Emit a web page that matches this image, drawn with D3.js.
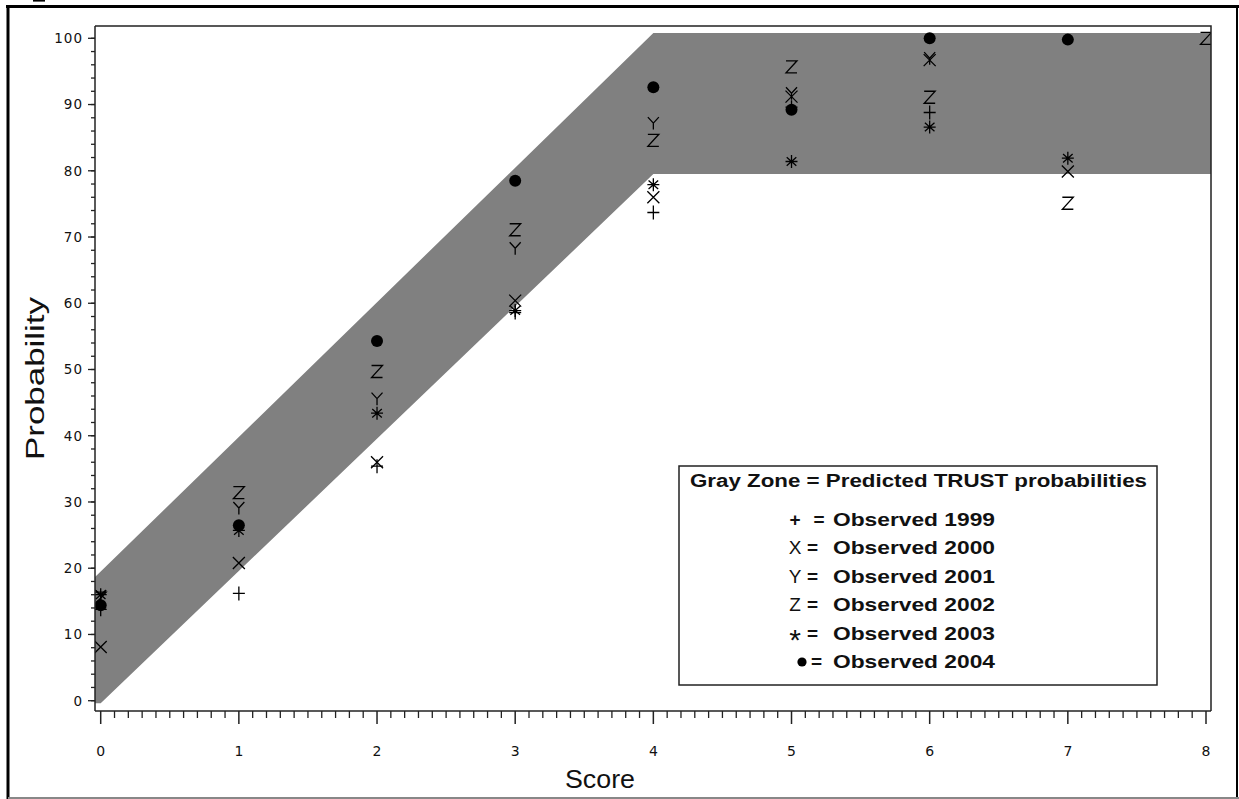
<!DOCTYPE html>
<html>
<head>
<meta charset="utf-8">
<script src="https://cdn.jsdelivr.net/npm/d3@7"></script>
<style>
  html, body { margin: 0; padding: 0; background: #fff; }
  svg { display: block; }
</style>
</head>
<body>
<svg id="chart" width="1239" height="799"></svg>
<script>
// Score categories on the x axis
const scores = [0, 1, 2, 3, 4, 5, 6, 7, 8];

// Observed probabilities (%) per year, one value per score (null = no observation)
const obs1999 = [13.8, 16.2, 35.4, 58.6, 73.7, 89.6, 88.8, null, null];
const obs2000 = [8.1, 20.8, 36.0, 60.4, 76.0, 91.2, 96.7, 79.9, null];
const obs2001 = [15.8, 29.1, 45.6, 68.3, 87.2, 91.7, 97.0, null, null];
const obs2002 = [15.5, 31.4, 49.7, 71.1, 84.6, 95.7, 91.1, 75.1, 100.0];
const obs2003 = [16.0, 25.7, 43.4, 58.9, 77.9, 81.4, 86.6, 81.9, null];
const obs2004 = [14.4, 26.5, 54.3, 78.5, 92.6, 89.2, 100.0, 99.8, null];

const years = [1999, 2000, 2001, 2002, 2003, 2004];
const symbols = ["+", "X", "Y", "Z", "*", "dot"];
const legendSymbols = ["+", "X", "Y", "Z", "*", "\u25CF"];
const seriesValues = [obs1999, obs2000, obs2001, obs2002, obs2003, obs2004];

// Predicted TRUST band (gray zone): lower/upper bounds at the break points
const bandScores = [0, 4, 8];
const bandLower = [-0.4, 79.5, 79.5];
const bandUpper = [19.5, 100.8, 100.8];

// Axis ticks
const yMajorTicks = [0, 10, 20, 30, 40, 50, 60, 70, 80, 90, 100];
const xMajorTicks = [0, 1, 2, 3, 4, 5, 6, 7, 8];

const legendTitle = "Gray Zone = Predicted TRUST probabilities";
const xTitle = "Score";
const yTitle = "Probability";

const sans = "'Liberation Sans', Arial, Helvetica, sans-serif";

// ---------- layout ----------
const svg = d3.select("#chart");
const plot = { left: 95, right: 1211, top: 26, bottom: 711 };

const x = d3.scaleLinear().domain([0, 8]).range([100.7, 1206]);
const y = d3.scaleLinear().domain([0, 100]).range([700.7, 38.3]);

// outer frame
svg.append("rect").attr("x", 33).attr("y", 0).attr("width", 12).attr("height", 1.6).attr("fill", "#000");
svg.append("line").attr("x1", 6).attr("x2", 1239).attr("y1", 6.5).attr("y2", 6.5)
  .attr("stroke", "#000").attr("stroke-width", 3);
svg.append("line").attr("x1", 8).attr("x2", 8).attr("y1", 5).attr("y2", 799)
  .attr("stroke", "#000").attr("stroke-width", 3);
svg.append("line").attr("x1", 1237).attr("x2", 1237).attr("y1", 5).attr("y2", 799)
  .attr("stroke", "#000").attr("stroke-width", 2);
svg.append("line").attr("x1", 8).attr("x2", 1239).attr("y1", 798).attr("y2", 798)
  .attr("stroke", "#888").attr("stroke-width", 2);

// clip region for the data area
svg.append("defs").append("clipPath").attr("id", "plotClip")
  .append("rect")
  .attr("x", plot.left).attr("y", plot.top)
  .attr("width", plot.right - plot.left).attr("height", plot.bottom - plot.top);

const gData = svg.append("g").attr("clip-path", "url(#plotClip)");

// ---------- gray band ----------
const lowAt = d3.scaleLinear().domain(bandScores).range(bandLower);
const upAt = d3.scaleLinear().domain(bandScores).range(bandUpper);
const sLeft = x.invert(plot.left), sRight = x.invert(plot.right);
const bandPts = [sLeft, ...bandScores, sRight].sort((a, b) => a - b);
const band = d3.area()
  .x(d => x(d))
  .y0(d => y(Math.max(lowAt(d), bandLower[0])))
  .y1(d => y(upAt(d)));
gData.append("path").datum(bandPts).attr("d", band).attr("fill", "#808080");

// ---------- symbols ----------
const glyphPaths = {
  "+": "M-6,0H6M0,-7V7",
  "X": "M-6,-6L6,6M6,-6L-6,6",
  "Y": "M-5.5,-6L0,0L5.5,-6M0,0V6.5",
  "Z": "M-5.5,-6H5.5L-5.5,6H5.5",
  "*": "M0,-6.5V6.5M-6,0H6M-4.8,-4.2L4.8,4.2M-4.8,4.2L4.8,-4.2"
};

seriesValues.forEach((vals, i) => {
  const sym = symbols[i];
  const pts = scores.map((s, j) => ({ s, v: vals[j] })).filter(d => d.v != null);
  const g = gData.append("g").attr("class", "series-" + years[i]);
  if (sym === "dot") {
    g.selectAll("circle").data(pts).join("circle")
      .attr("cx", d => x(d.s)).attr("cy", d => y(d.v)).attr("r", 6)
      .attr("fill", "#000");
  } else {
    g.selectAll("path").data(pts).join("path")
      .attr("transform", d => `translate(${x(d.s)},${y(d.v)})`)
      .attr("d", glyphPaths[sym])
      .attr("fill", "none").attr("stroke", "#000").attr("stroke-width", 1.3);
  }
});

// ---------- plot frame ----------
svg.append("path")
  .attr("d", `M${plot.left},${plot.top}H${plot.right}V${plot.bottom}`)
  .attr("fill", "none").attr("stroke", "#222").attr("stroke-width", 1.5);

// ---------- y axis ----------
const yMinor = d3.range(0, 101, 2);
const gy = svg.append("g").attr("transform", `translate(${plot.left},0)`);
gy.append("line").attr("x1", 0).attr("x2", 0).attr("y1", plot.top).attr("y2", plot.bottom)
  .attr("stroke", "#222").attr("stroke-width", 1.5);
gy.selectAll("line.minor").data(yMinor).join("line").attr("class", "minor")
  .attr("x1", -4).attr("x2", 0).attr("y1", d => y(d)).attr("y2", d => y(d))
  .attr("stroke", "#222").attr("stroke-width", 1.3);
gy.selectAll("line.major").data(yMajorTicks).join("line").attr("class", "major")
  .attr("x1", -7).attr("x2", 0).attr("y1", d => y(d)).attr("y2", d => y(d))
  .attr("stroke", "#222").attr("stroke-width", 1.3);
gy.selectAll("text").data(yMajorTicks).join("text")
  .attr("x", -12).attr("y", d => y(d)).attr("dy", "0.36em")
  .attr("text-anchor", "end")
  .attr("font-family", "DejaVu Sans, sans-serif").attr("font-size", 13.5)
  .attr("letter-spacing", 1)
  .attr("fill", "#111")
  .text(d => d);

// ---------- x axis ----------
const xMinor = d3.range(0, 80).map(i => i / 10).filter(v => Math.abs(v - Math.round(v)) > 1e-6);
const gx = svg.append("g").attr("transform", `translate(0,${plot.bottom})`);
gx.append("line").attr("x1", plot.left).attr("x2", plot.right).attr("y1", 0).attr("y2", 0)
  .attr("stroke", "#222").attr("stroke-width", 1.5);
gx.selectAll("line.minor").data(xMinor).join("line").attr("class", "minor")
  .attr("x1", d => x(d)).attr("x2", d => x(d)).attr("y1", 0).attr("y2", 7)
  .attr("stroke", "#222").attr("stroke-width", 1.3);
gx.selectAll("line.major").data(xMajorTicks).join("line").attr("class", "major")
  .attr("x1", d => x(d)).attr("x2", d => x(d)).attr("y1", 0).attr("y2", 13)
  .attr("stroke", "#222").attr("stroke-width", 1.5);
gx.selectAll("text").data(xMajorTicks).join("text")
  .attr("x", d => x(d)).attr("y", 40).attr("dy", "0.36em")
  .attr("text-anchor", "middle")
  .attr("font-family", "DejaVu Sans, sans-serif").attr("font-size", 14)
  .attr("fill", "#111")
  .text(d => d);

// ---------- axis titles ----------
svg.append("text")
  .attr("x", 565).attr("y", 788)
  .attr("font-family", sans).attr("font-size", 25)
  .attr("textLength", 70).attr("lengthAdjust", "spacingAndGlyphs")
  .attr("fill", "#111").text(xTitle);

svg.append("text")
  .attr("transform", "translate(44,460) rotate(-90)")
  .attr("x", 0).attr("y", 0)
  .attr("font-family", sans).attr("font-size", 25)
  .attr("textLength", 163).attr("lengthAdjust", "spacingAndGlyphs")
  .attr("fill", "#111").text(yTitle);

// ---------- legend ----------
const lg = svg.append("g");
lg.append("rect").attr("x", 679).attr("y", 466).attr("width", 478).attr("height", 219)
  .attr("fill", "#fff").attr("stroke", "#222").attr("stroke-width", 1.5);
lg.append("text").attr("x", 690).attr("y", 487)
  .attr("font-family", sans).attr("font-size", 18)
  .attr("font-weight", "bold")
  .attr("textLength", 457).attr("lengthAdjust", "spacingAndGlyphs")
  .attr("fill", "#111").text(legendTitle);

const rowY = d3.scaleLinear().domain([0, 5]).range([526, 668]);
const eqX = [819, 812.5, 812.5, 812.5, 812.5, 816.5];
years.forEach((yr, i) => {
  const by = rowY(i);
  const sym = legendSymbols[i];
  if (i === 5) {
    lg.append("circle").attr("cx", 802).attr("cy", by - 6).attr("r", 4.6).attr("fill", "#000");
  } else if (sym === "*") {
    lg.append("text").attr("x", 795).attr("y", by + 10)
      .attr("text-anchor", "middle")
      .attr("font-family", sans).attr("font-size", 30)
      .attr("fill", "#111").text(sym);
  } else {
    lg.append("text").attr("x", 795).attr("y", by)
      .attr("text-anchor", "middle")
      .attr("font-family", sans).attr("font-size", 19)
      .attr("font-weight", sym === "+" ? "bold" : "normal")
      .attr("fill", "#111").text(sym);
  }
  lg.append("text").attr("x", eqX[i]).attr("y", by)
    .attr("text-anchor", "middle")
    .attr("font-family", sans).attr("font-size", 19)
    .attr("font-weight", "bold").attr("fill", "#111").text("=");
  lg.append("text").attr("x", 833).attr("y", by)
    .attr("font-family", sans).attr("font-size", 19)
    .attr("font-weight", "bold")
    .attr("textLength", 162).attr("lengthAdjust", "spacingAndGlyphs")
    .attr("fill", "#111").text("Observed " + yr);
});
</script>
</body>
</html>
